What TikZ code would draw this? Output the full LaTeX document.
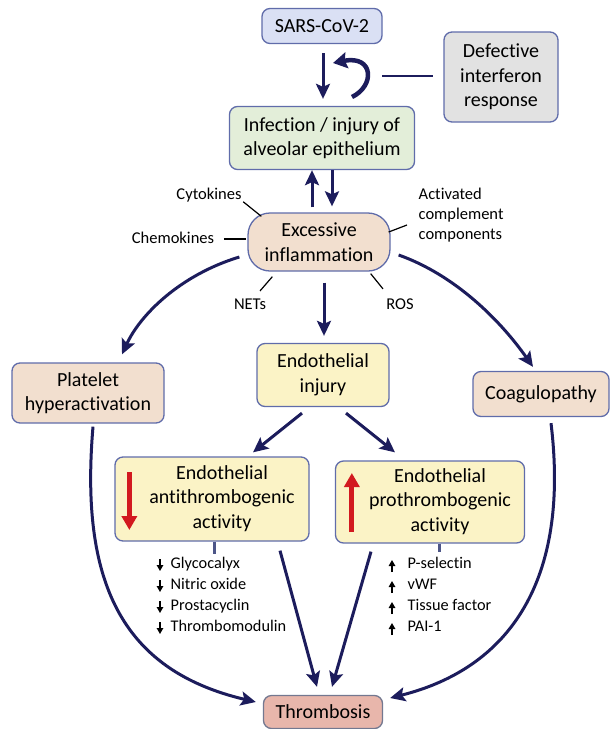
\documentclass[tikz,border=0pt]{standalone}
\usepackage{fontspec}
\setmainfont{Carlito}[Ligatures=NoCommon]
\usetikzlibrary{arrows.meta}
\definecolor{navyarrow}{RGB}{28,28,92}
\definecolor{boxblue}{RGB}{96,108,170}
\definecolor{virusfill}{RGB}{218,224,244}
\definecolor{greyfill}{RGB}{226,226,226}
\definecolor{greenfill}{RGB}{227,238,217}
\definecolor{peachfill}{RGB}{242,223,207}
\definecolor{yellowfill}{RGB}{251,243,198}
\definecolor{thrombfill}{RGB}{232,182,171}
\definecolor{alertred}{RGB}{210,25,31}

\begin{document}
\begin{tikzpicture}[x=1pt,y=-1pt,
  box/.style={draw=boxblue,line width=1.3pt,rounded corners=8pt,align=center,inner sep=0pt,
    font=\fontsize{20}{24.5}\selectfont},
  lbl/.style={inner sep=0.5pt,font=\fontsize{16.5}{20}\selectfont},
  item/.style={anchor=west,inner sep=0.5pt,text height=11pt,text depth=3.5pt,
    font=\fontsize{16.3}{20}\selectfont},
  flow/.style={draw=navyarrow,line width=3pt,-{Stealth[length=15pt,width=14pt,inset=3pt]}},
  recur/.style={draw=navyarrow,line width=4.5pt,-{Stealth[length=14pt,width=16pt,inset=2pt]}},
  link/.style={draw=navyarrow,line width=1.5pt},
  spoke/.style={draw=black,line width=1.2pt},
  stub/.style={draw=boxblue!80!black,line width=3pt},
  redarrow/.style={draw=alertred,line width=5pt,-{Triangle[length=14pt,width=15pt]}},
  smallarrow/.style={draw=black,line width=1.3pt,-{Triangle[length=6pt,width=6.5pt]}}]

  \useasboundingbox (0,0) rectangle (613,729);

  % boxes
  \node[box,fill=virusfill,minimum width=120pt,minimum height=35pt] (sars) at (322,26) {SARS-CoV-2};
  \node[box,fill=greyfill,minimum width=114pt,minimum height=90pt] (defect) at (501,77) {Defective\\interferon\\response};
  \node[box,fill=greenfill,minimum width=185pt,minimum height=63pt] (infect) at (322,138) {Infection / injury of\\alveolar epithelium};
  \node[box,fill=peachfill,rounded corners=22pt,minimum width=142pt,minimum height=58pt] (inflam) at (319,242) {Excessive\\inflammation};
  \node[box,fill=yellowfill,minimum width=132pt,minimum height=63pt] (endinj) at (323,375) {Endothelial\\injury};
  \node[box,fill=peachfill,minimum width=152pt,minimum height=60pt] (platelet) at (88,393) {Platelet\\hyperactivation};
  \node[box,fill=peachfill,minimum width=136pt,minimum height=45pt] (coag) at (541,394) {Coagulopathy};
  \node[box,fill=yellowfill,minimum width=194pt,minimum height=84pt] (anti) at (212,499)
    {\hspace*{20pt}\begin{tabular}{@{}c@{}}Endothelial\\antithrombogenic\\activity\end{tabular}};
  \node[box,fill=yellowfill,minimum width=189pt,minimum height=82pt] (pro) at (430,502)
    {\hspace*{20pt}\begin{tabular}{@{}c@{}}Endothelial\\prothrombogenic\\activity\end{tabular}};
  \node[box,draw=gray!60!boxblue,fill=thrombfill,minimum width=119pt,minimum height=33pt] (thromb) at (323,712) {Thrombosis};

  % mediators
  \node[lbl] (cyto) at (209,195) {Cytokines};
  \node[lbl] (chemo) at (173,238) {Chemokines};
  \node[lbl,anchor=west,align=left] (act) at (418,215) {Activated\\complement\\components};
  \node[lbl] (nets) at (250,304) {NETs};
  \node[lbl] (ros) at (400,304) {ROS};

  \draw[spoke] ([shift={(1,-1)}]cyto.south east) -- ([shift={(14,4)}]inflam.north west);
  \draw[spoke] ([shift={(9,1)}]chemo.east) -- ([shift={(-1,-3)}]inflam.west);
  \draw[spoke] ([shift={(-11,10)}]act.west) -- ([shift={(-2,-10)}]inflam.east);
  \draw[spoke] ([shift={(10,-7)}]nets.north) -- ([shift={(25,5)}]inflam.south west);
  \draw[spoke] ([shift={(-17,-9)}]ros.north) -- ([shift={(-20,2)}]inflam.south east);

  % top part
  \coordinate (ifn) at (382,76);
  \coordinate (loopstart) at (352,97);
  \coordinate (loopend) at (333,63);
  \draw[link] (ifn) -- ([shift={(-10,-1)}]defect.west);
  \draw[recur] (loopstart) .. controls (375,86) and (374,55) .. (loopend);
  \draw[flow] ([shift={(1,9)}]sars.south) -- ([shift={(1,-7)}]infect.north);
  \draw[flow] ([shift={(-7,-5)}]inflam.north) -- ([shift={(-10,0)}]infect.south);
  \draw[flow] ([shift={(10,0)}]infect.south) -- ([shift={(13,-6)}]inflam.north);
  \draw[flow] ([shift={(5,11)}]inflam.south) -- ([shift={(1,-7)}]endinj.north);

  % branches
  \draw[flow] ([shift={(-8,15)}]inflam.west) .. controls (180,275) and (140,315) .. ([shift={(34,-8)}]platelet.north);
  \draw[flow] ([shift={(8,13)}]inflam.east) .. controls (455,275) and (500,320) .. ([shift={(-8,-4)}]coag.north);
  \draw[flow] ([shift={(-21,6)}]endinj.south) -- ([shift={(41,-4)}]anti.north);
  \draw[flow] ([shift={(23,6)}]endinj.south) -- ([shift={(-35,-8)}]pro.north);

  % into thrombosis
  \draw[flow] ([shift={(5,3)}]platelet.south) .. controls (80,580) and (120,670) .. ([shift={(-7,-10)}]thromb.west);
  \draw[flow] ([shift={(10,6)}]coag.south) .. controls (570,580) and (510,668) .. ([shift={(7,-14)}]thromb.east);
  \draw[flow] ([shift={(68,9)}]anti.south) -- ([shift={(-6,-8)}]thromb.north);
  \draw[flow] ([shift={(-59,8)}]pro.south) -- ([shift={(9,-8)}]thromb.north);

  % red arrows in the boxes
  \draw[redarrow] ([shift={(15,-27)}]anti.west) -- ([shift={(15,31)}]anti.west);
  \draw[redarrow] ([shift={(17,30)}]pro.west) -- ([shift={(17,-29)}]pro.west);

  % lists
  \draw[stub] ([shift={(2,0)}]anti.south) -- ([shift={(2,12)}]anti.south);
  \draw[stub] ([shift={(9,0)}]pro.south) -- ([shift={(9,8)}]pro.south);
  \foreach \txt [count=\i] in {Glycocalyx,Nitric oxide,Prostacyclin,Thrombomodulin} {
    \node[item] (dn\i) at (170,544+21*\i) {\txt};
    \draw[smallarrow] ([shift={(-10,-6)}]dn\i.west) -- ([shift={(-10,6)}]dn\i.west);
  }
  \foreach \txt [count=\i] in {P-selectin,vWF,Tissue factor,PAI-1} {
    \node[item] (up\i) at (407,544+21*\i) {\txt};
    \draw[smallarrow] ([shift={(-15,7)}]up\i.west) -- ([shift={(-15,-5)}]up\i.west);
  }
\end{tikzpicture}
\end{document}
